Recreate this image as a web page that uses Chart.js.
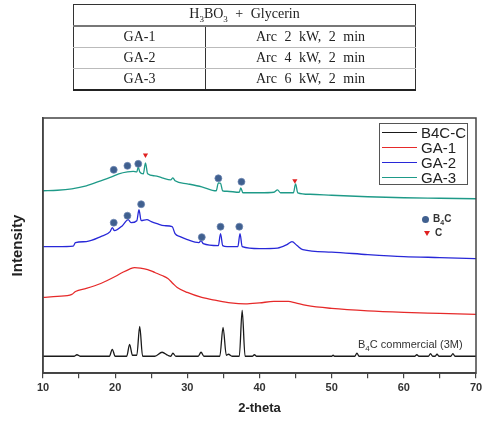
<!DOCTYPE html>
<html>
<head>
<meta charset="utf-8">
<script src="https://cdn.jsdelivr.net/npm/chart.js@4.4.1/dist/chart.umd.min.js"></script>
<style>
  body { margin: 0; background: #fff; width: 498px; height: 421px; overflow: hidden; position: relative; font-family: "Liberation Sans", Arial, sans-serif; }
  #chart { position: absolute; left: 0; top: 0; }
  table.cond { position: absolute; left: 73px; top: 4px; width: 343px; border-collapse: collapse; font-family: "Liberation Serif", "DejaVu Serif", serif; font-size: 14px; color: #222; }
  table.cond td { height: 20px; padding: 0; text-align: center; border-left: 1.5px solid #333; border-right: 1.5px solid #333; word-spacing: 4px; }
  table.cond tr.head td { border-top: 1.5px solid #333; border-bottom: 2px solid #777; }
  table.cond tr.row td { border-bottom: 1px solid #bbb; }
  table.cond tr.last td { border-bottom: 2px solid #222; }
  table.cond td.c1 { width: 131px; }
  .legend { position: absolute; left: 379px; top: 123px; width: 87px; height: 60px; border: 1px solid #555; background: #fff; }
  .legend .item { position: absolute; left: 2px; height: 15px; font-size: 15px; line-height: 15px; color: #222; }
  .legend .sw { position: absolute; left: 0; top: 7px; width: 35px; height: 1.4px; }
  .legend .txt { position: absolute; left: 39px; top: 0; white-space: nowrap; }
  .mk { position: absolute; font-size: 10px; font-weight: bold; color: #333; line-height: 12px; white-space: nowrap; }
  .dot { display: inline-block; width: 7px; height: 7px; border-radius: 50%; background: #40608f; vertical-align: middle; margin-right: 4px; }
  .tri { display: inline-block; width: 0; height: 0; border-left: 3px solid transparent; border-right: 3px solid transparent; border-top: 5px solid #e02020; vertical-align: middle; margin-right: 5px; margin-left: 1px; }
  .ref { position: absolute; left: 358px; top: 338px; font-size: 11px; color: #333; white-space: nowrap; }
</style>
</head>
<body>
<canvas id="chart" width="498" height="421"></canvas>

<table class="cond">
  <tr class="head"><td colspan="2">H<sub style="font-size:9px">3</sub>BO<sub style="font-size:9px">3</sub> + Glycerin</td></tr>
  <tr class="row"><td class="c1">GA-1</td><td>Arc 2 kW, 2 min</td></tr>
  <tr class="row"><td class="c1">GA-2</td><td>Arc 4 kW, 2 min</td></tr>
  <tr class="last"><td class="c1">GA-3</td><td>Arc 6 kW, 2 min</td></tr>
</table>

<div class="legend" id="legend"></div>
<div class="mk" style="left:422px; top:213px;"><span class="dot"></span>B<sub style="font-size:7px">4</sub>C</div>
<div class="mk" style="left:423px; top:227px;"><span class="tri"></span>C</div>
<div class="ref">B<sub style="font-size:8px">4</sub>C commercial (3M)</div>

<script>
// XRD patterns, intensity in arbitrary units (curves offset as in the figure)
const seriesNames = ['B4C-C', 'GA-1', 'GA-2', 'GA-3'];
const seriesColors = ['#1a1a1a', '#e62a2a', '#2828d8', '#1e9a88'];

const thetaB4C = [10,12.5,14.3,14.7,15.2,19.2,19.6,20.0,21.6,22.0,22.4,23.0,23.4,23.8,25.5,26.5,27.3,27.7,28.0,28.4,31.5,31.9,32.3,34.5,34.95,35.4,35.7,36.2,37.2,37.6,38.0,39.0,39.3,39.6,50.0,50.2,50.4,53.2,53.5,53.8,61.5,61.8,62.1,63.4,63.7,64.0,64.3,64.6,64.9,66.5,66.8,67.1,70];
const intB4C = [17,17,17,18.5,17,17,24,17,17,29,18,18,47,17,17,21,18,17,20,17,17,21,17,17,46,18,19,17,17,63,17,17,18.5,17,17,18,17,17,20,17,17,18.5,17,17,19.5,17,17,19,17,17,19.5,17,17];

const thetaGA1 = [10,12,14,14.5,16,18,20,21,22,22.7,23.5,24.5,25.5,26.5,27.3,28,28.6,30,32,34,36,38,40,42,44,45,46.5,50,55,60,65,70];
const intGA1 = [76,77,79,82,85,90,97,101,104.5,106,105.5,104,101,98,95,90,86,81,76,73,70.5,69.5,70.5,72,72,70.5,68,65,62.5,61,60,59];

const thetaGA2 = [10,12,14.2,14.5,16,18,19.3,19.6,19.9,21,21.8,22.2,23.0,23.3,23.6,24.4,25,25.8,26.8,27.9,28.3,29,30,31.6,31.9,32.2,34.3,34.6,34.9,35.5,37.0,37.3,37.6,40,42.5,43.8,44.5,45.2,46,50,55,60,65,70];
const intGA2 = [127,127,127.5,131,132,137,142,146,143,148,154,151,153,164,153,154,152,150,148,147,140,137,134,131,133,130,128,140,128,127,127,140,127,125,125.5,129,132,128,124,121.5,119,117,116,115];

const thetaGA3 = [10,12,14,16,18,19.5,20.5,21.7,22.5,23.0,23.2,23.4,23.9,24.2,24.5,25.5,26.5,27.7,28,28.3,30,32,34,34.3,34.6,34.9,35.5,37.2,37.4,37.7,40,42,42.5,42.9,44.7,45.0,45.3,47,50,55,60,65,70];
const intGA3 = [183,183.5,185,188,193,197,200,202,202.5,202,207,202,200,211,200,198,196,194,196,193,190,187,183,191,190.5,183,182.5,181.5,186,181,181,181.5,184,181,181,190,181,179.5,178.5,177,176,175.5,175];

// phase markers (B4C circles, C triangles)
const b4cMarkTheta = [19.8, 21.7, 23.2, 34.3, 37.5, 19.8, 21.7, 23.6, 32.0, 34.6, 37.2];
const b4cMarkInt = [204, 208, 210, 195.5, 192, 151, 158, 169.5, 136.5, 147, 147];
const cMarkTheta = [24.2, 44.9];
const cMarkInt = [219, 193];

const xTicks = [10, 20, 30, 40, 50, 60, 70];

const thetas = [thetaB4C, thetaGA1, thetaGA2, thetaGA3];
const ints = [intB4C, intGA1, intGA2, intGA3];

function pts(xs, ys) {
  return xs.map((x, i) => ({ x: x, y: ys[i] }));
}

const datasets = seriesNames.map((name, i) => ({
  label: name,
  data: pts(thetas[i], ints[i]),
  borderColor: seriesColors[i],
  borderWidth: 1.3,
  pointRadius: 0,
  cubicInterpolationMode: 'monotone',
  fill: false
}));

datasets.push({
  label: 'B4C',
  data: pts(b4cMarkTheta, b4cMarkInt),
  showLine: false,
  pointStyle: 'circle',
  pointRadius: 3.5,
  pointBackgroundColor: '#40608f',
  pointBorderColor: 'rgba(110,135,180,0.9)',
  pointBorderWidth: 0.8,
  order: -1
});
datasets.push({
  label: 'C',
  data: pts(cMarkTheta, cMarkInt),
  showLine: false,
  pointStyle: 'triangle',
  rotation: 180,
  pointRadius: 3,
  pointBackgroundColor: '#e02020',
  pointBorderColor: '#e02020',
  pointBorderWidth: 0,
  order: -1
});

// plot frame
const framePlugin = {
  id: 'frame',
  afterDraw(chart) {
    const { ctx, chartArea: a } = chart;
    ctx.save();
    ctx.strokeStyle = '#444';
    ctx.lineWidth = 1.5;
    ctx.strokeRect(a.left, a.top, a.right - a.left, a.bottom - a.top);
    ctx.restore();
  }
};

new Chart(document.getElementById('chart'), {
  type: 'line',
  data: { datasets: datasets },
  options: {
    responsive: false,
    animation: false,
    events: [],
    layout: { padding: { top: 118, right: 22, left: 0, bottom: 3 } },
    plugins: { legend: { display: false }, tooltip: { enabled: false } },
    scales: {
      x: {
        type: 'linear',
        min: 10, max: 70,
        ticks: {
          stepSize: 5,
          callback: v => xTicks.includes(v) ? String(v) : '',
          font: { family: 'Liberation Sans', size: 11, weight: 'bold' },
          color: '#333',
          padding: 3,
          maxRotation: 0,
          autoSkip: false
        },
        grid: { drawOnChartArea: false, drawTicks: true, tickLength: 5, color: '#444', lineWidth: 1.2 },
        border: { color: '#444', width: 1.5 },
        title: { display: true, text: '2-theta', font: { family: 'Liberation Sans', size: 13, weight: 'bold' }, color: '#222', padding: { top: 3, bottom: 2 } }
      },
      y: {
        min: 0, max: 256,
        ticks: { display: false },
        grid: { display: false },
        border: { color: '#444', width: 1.5 },
        title: { display: true, text: 'Intensity', font: { family: 'Liberation Sans', size: 15, weight: 'bold' }, color: '#222', padding: { top: 9, bottom: 8 } }
      }
    }
  },
  plugins: [framePlugin]
});

// legend box
const legendEl = document.getElementById('legend');
seriesNames.forEach((name, i) => {
  const item = document.createElement('div');
  item.className = 'item';
  item.style.top = (1 + i * 15) + 'px';
  item.innerHTML = `<span class="sw" style="background:${seriesColors[i]}"></span><span class="txt">${name}</span>`;
  legendEl.appendChild(item);
});
</script>
</body>
</html>
